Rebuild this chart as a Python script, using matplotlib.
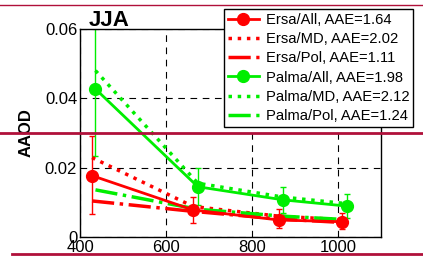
import numpy as np
import matplotlib.pyplot as plt
from matplotlib.lines import Line2D

plt.rcParams['font.family'] = ['Liberation Sans', 'DejaVu Sans']

# wavelengths (nm), slightly offset per site
wl_ersa = [428, 663, 863, 1009]
wl_palma = [436, 674, 873, 1022]

# AAOD values
ersa_all = [0.0177, 0.0078, 0.0049, 0.0044]
ersa_all_lo = [0.0066, 0.0040, 0.0027, 0.0023]
ersa_all_hi = [0.0291, 0.0116, 0.0081, 0.0068]
ersa_md = [0.0229, 0.0088, 0.0060, 0.0050]
ersa_pol = [0.0104, 0.0074, 0.0052, 0.0042]

palma_all = [0.0427, 0.0145, 0.0107, 0.0089]
palma_all_lo = [0.0234, 0.0092, 0.0070, 0.0055]
palma_all_hi = [0.0650, 0.0198, 0.0145, 0.0124]
palma_md = [0.0480, 0.0155, 0.0115, 0.0096]
palma_pol = [0.0136, 0.0080, 0.0060, 0.0050]

labels = ['Ersa/All, AAE=1.64', 'Ersa/MD, AAE=2.02', 'Ersa/Pol, AAE=1.11',
          'Palma/All, AAE=1.98', 'Palma/MD, AAE=2.12', 'Palma/Pol, AAE=1.24']

red = '#ff0000'
green = '#00ee00'

fig = plt.figure(figsize=(4.23, 2.65), dpi=100)
ax = fig.add_axes([80/423, 28/265, 301/423, 208/265])

def errbar(x, y, lo, hi, c):
    y = np.array(y)
    ax.errorbar(x, y, yerr=[y - np.array(lo), np.array(hi) - y], fmt='none',
                ecolor=c, elinewidth=1, capsize=2.5, capthick=1, zorder=2)

errbar(wl_ersa, ersa_all, ersa_all_lo, ersa_all_hi, red)
errbar(wl_palma, palma_all, palma_all_lo, palma_all_hi, green)

h = []
h += ax.plot(wl_ersa, ersa_all, '-o', color=red, lw=2, ms=8.5, zorder=4)
h += ax.plot(wl_ersa, ersa_md, ':', color=red, lw=2.5, zorder=3)
h += ax.plot(wl_ersa, ersa_pol, '-.', color=red, lw=2.5, zorder=3)
h += ax.plot(wl_palma, palma_all, '-o', color=green, lw=2, ms=8.5, zorder=4)
h += ax.plot(wl_palma, palma_md, ':', color=green, lw=2.5, zorder=3)
h += ax.plot(wl_palma, palma_pol, '-.', color=green, lw=2.5, zorder=3)

ax.set_xlim(400, 1100)
ax.set_ylim(0, 0.06)
ax.set_xticks([400, 600, 800, 1000])
ax.set_yticks([0, 0.02, 0.04, 0.06])
ax.set_yticklabels(['0', '0.02', '0.04', '0.06'])
ax.tick_params(labelsize=12, direction='in', length=0, pad=2)
ax.grid(True, color='black', linestyle=(0, (6, 5)), lw=0.8)
for s in ax.spines.values():
    s.set_linewidth(1)

ax.set_ylabel('AAOD', fontsize=12, fontweight='bold', labelpad=8)
fig.text(89/423, 1 - 26/265, 'JJA', fontsize=16, fontweight='bold')

leg = fig.legend(h, labels, loc='upper left', bbox_to_anchor=(224/423, 1 - 9/265),
                 bbox_transform=fig.transFigure, fontsize=10.6, frameon=True,
                 fancybox=False, edgecolor='black', framealpha=1,
                 handlelength=2.1, handletextpad=0.5, labelspacing=0.36,
                 borderpad=0.25, borderaxespad=0)
leg.get_frame().set_linewidth(1)

# page rules around the cropped figure
crimson = '#b0103a'
fig.add_artist(Line2D([0, 1], [1 - 5/265, 1 - 5/265], color=crimson, lw=1))
fig.add_artist(Line2D([0, 1], [1 - 133/265, 1 - 133/265], color=crimson, lw=2, zorder=10))
fig.add_artist(Line2D([12/423, 1], [1 - 254/265, 1 - 254/265], color=crimson, lw=2, zorder=10))

fig.savefig('out.png', dpi=100)
